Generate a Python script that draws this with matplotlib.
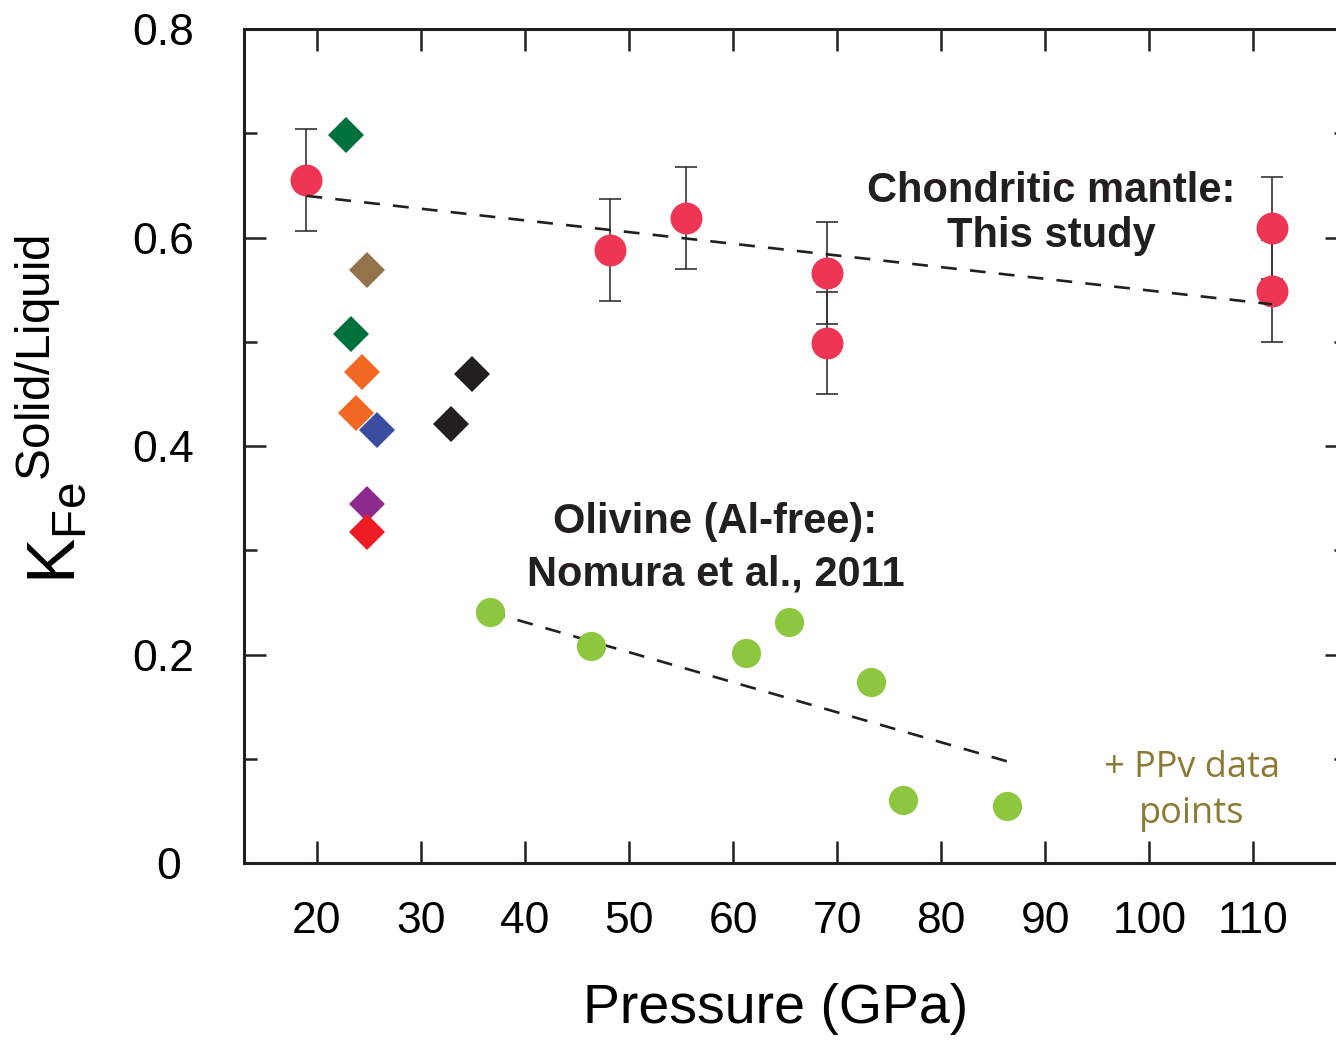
import matplotlib
matplotlib.use("Agg")
import matplotlib.pyplot as plt
from matplotlib.ticker import MultipleLocator, FuncFormatter

plt.rcParams['font.family'] = ['Liberation Sans', 'DejaVu Sans']
plt.rcParams['mathtext.fontset'] = 'custom'
plt.rcParams['mathtext.rm'] = 'Liberation Sans'
plt.rcParams['mathtext.it'] = 'Liberation Sans:italic'
plt.rcParams['mathtext.bf'] = 'Liberation Sans:bold'

INK = '#231f20'

# chondritic mantle runs (this study), with 1-sigma errors
study_p = [19.0, 48.2, 55.5, 69.0, 69.0, 111.8, 111.8]
study_k = [0.655, 0.588, 0.619, 0.566, 0.499, 0.609, 0.549]
study_err = [0.049, 0.049, 0.049, 0.049, 0.049, 0.049, 0.049]
study_fit_p = [19.0, 111.8]
study_fit_k = [0.640, 0.536]

# Al-free olivine, Nomura et al. 2011
olivine_p = [36.6, 46.3, 61.2, 65.4, 73.3, 76.3, 86.3]
olivine_k = [0.241, 0.208, 0.202, 0.231, 0.174, 0.061, 0.055]
olivine_fit_p = [36.6, 86.6]
olivine_fit_k = [0.241, 0.097]

# other published K_Fe values
lit_p = [22.8, 24.8, 23.3, 24.3, 23.75, 25.8, 34.95, 32.9, 24.8, 24.8]
lit_k = [0.698, 0.569, 0.508, 0.471, 0.4315, 0.4155, 0.469, 0.421, 0.3445, 0.318]
lit_colors = ['#00703c', '#94734a', '#00703c', '#f26722', '#f26722',
              '#3a4da0', INK, INK, '#8e2a8e', '#ed1c24']

fig = plt.figure(figsize=(13.36, 10.41), dpi=100)
ax = fig.add_axes([244 / 1336, 1 - 863.3 / 1041, (1347 - 244) / 1336, (863.3 - 29) / 1041])
ax.set_xlim(13.0, 119.0)
ax.set_ylim(0, 0.8)

ax.errorbar(study_p, study_k, yerr=study_err, fmt='none', ecolor='#333333',
            elinewidth=1.2, capsize=7.8, capthick=1.2, zorder=2)
ax.plot(study_p, study_k, 'o', ms=23, color='#ee3553', mew=0, zorder=3)
ax.plot(study_fit_p, study_fit_k, color=INK, lw=1.9, dashes=(6, 5), zorder=4)

ax.plot(olivine_fit_p, olivine_fit_k, color=INK, lw=1.9, dashes=(6, 5), zorder=2)
ax.plot(olivine_p, olivine_k, 'o', ms=21, color='#8dc63f', mew=0, zorder=3)

for p, k, c in zip(lit_p, lit_k, lit_colors):
    ax.plot(p, k, 'D', ms=18.8, color=c, mew=0, zorder=3)

ax.text(90.6, 0.6345, 'Chondritic mantle:', ha='center', va='baseline',
        fontsize=30, fontweight='bold', color=INK)
ax.text(90.6, 0.5912, 'This study', ha='center', va='baseline',
        fontsize=30, fontweight='bold', color=INK)
ax.text(58.3, 0.317, 'Olivine (Al-free):', ha='center', va='baseline',
        fontsize=30, fontweight='bold', color=INK)
ax.text(58.3, 0.266, 'Nomura et al., 2011', ha='center', va='baseline',
        fontsize=30, fontweight='bold', color=INK)
ax.text(104.1, 0.0825, '+ PPv data', ha='center', va='baseline',
        fontsize=26, color='#8b7934', family='Open Sans')
ax.text(104.1, 0.0389, 'points', ha='center', va='baseline',
        fontsize=26, color='#8b7934', family='Open Sans')

ax.xaxis.set_major_locator(MultipleLocator(10))
ax.yaxis.set_major_locator(MultipleLocator(0.2))
ax.yaxis.set_minor_locator(MultipleLocator(0.1))
# zero is written bare, with a trailing space so it sits under the others
ax.yaxis.set_major_formatter(FuncFormatter(lambda v, pos: '0 ' if abs(v) < 1e-9 else f'{v:.1f}'))
ax.tick_params(which='both', direction='in', top=True, right=True,
               width=1.8, color=INK, labelcolor='black', labelsize=32)
ax.tick_params(which='major', length=15.8)
ax.tick_params(which='minor', length=9.4)
ax.tick_params(axis='x', pad=27)
ax.tick_params(axis='y', pad=36)
for s in ax.spines.values():
    s.set_linewidth(2.2)
    s.set_color(INK)

ax.set_xlabel('Pressure (GPa)', fontsize=40)
ax.xaxis.set_label_coords(0.482, -0.143)
fig.text(0.0115, 0.607, r'$\mathrm{K}_{\mathrm{Fe}}{}^{\mathrm{Solid/Liquid}}$',
         rotation=90, ha='left', va='center', fontsize=49)

fig.savefig('out.png', dpi=100)
